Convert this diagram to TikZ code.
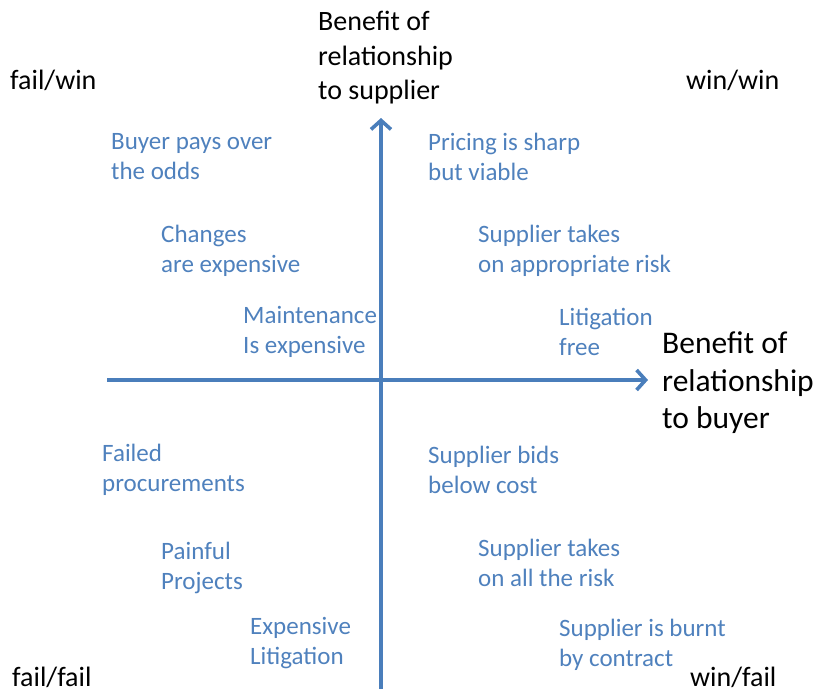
\documentclass[tikz,border=0pt]{standalone}
\usepackage{fontspec}
\setmainfont{Carlito}
\usepackage{tikz}
\usetikzlibrary{arrows.meta}

\definecolor{axisblue}{RGB}{74,126,187}
\definecolor{noteblue}{RGB}{79,129,189}

\begin{document}
\begin{tikzpicture}[x=1pt,y=-1pt,
    note/.style={anchor=west,align=left,text=noteblue,inner sep=0pt,font=\fontsize{25}{30}\selectfont},
    corner/.style={anchor=west,inner sep=0pt,font=\fontsize{28}{30}\selectfont},
    axislabel/.style={anchor=west,align=left,inner sep=0pt,font=\fontsize{31.5}{37.5}\selectfont},
    axis/.style={draw=axisblue,line width=3.6pt,-{Straight Barb[length=9pt,width=20pt,line width=3.6pt]}}]
    \useasboundingbox (0,0) rectangle (815,689);
    \coordinate (origin) at (381,380);
    \coordinate (xstart) at (107,380);
    \coordinate (xend) at (648,380);
    \coordinate (ystart) at (381,689);
    \coordinate (yend) at (381,118);
    \draw[axis] (xstart) -- (xend);
    \draw[axis] (ystart) -- (yend);
    \node[axislabel,font=\fontsize{28}{34.5}\selectfont] (supplier) at (318,58) {Benefit of\\relationship\\to supplier};
    \node[axislabel] (buyer) at (662,383) {Benefit of\\relationship\\to buyer};
    \node[corner] (failwin) at (10,80) {fail/win};
    \node[corner] (winwin) at (686,80) {win/win};
    \node[corner] (failfail) at (12,677) {fail/fail};
    \node[corner] (winfail) at (690,677) {win/fail};
    \node[note] (overodds) at (111,157) {Buyer pays over\\the odds};
    \node[note] (sharp) at (428,157) {Pricing is sharp\\but viable};
    \node[note] (changes) at (161,251) {Changes\\are expensive};
    \node[note] (approprisk) at (478,251) {Supplier takes\\on appropriate risk};
    \node[note] (maint) at (243,332) {Maintenance\\Is expensive};
    \node[note] (litfree) at (559,332) {Litigation\\free};
    \node[note] (failed) at (102,470) {Failed\\procurements};
    \node[note] (belowcost) at (428,470) {Supplier bids\\below cost};
    \node[note] (painful) at (161,568) {Painful\\Projects};
    \node[note] (allrisk) at (478,563) {Supplier takes\\on all the risk};
    \node[note] (explit) at (250,643) {Expensive\\Litigation};
    \node[note] (burnt) at (559,645) {Supplier is burnt\\by contract};
\end{tikzpicture}
\end{document}
